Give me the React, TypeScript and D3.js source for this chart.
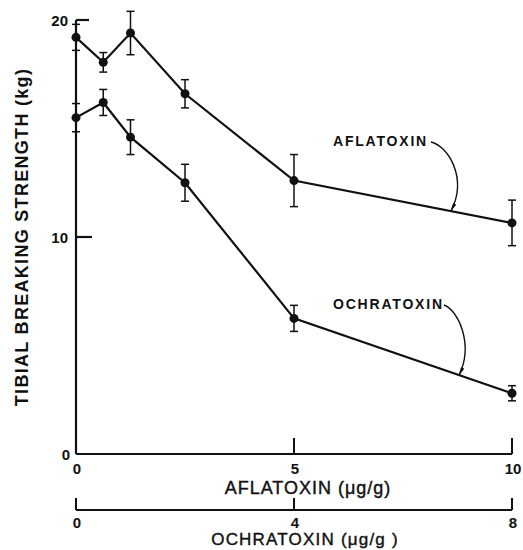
import React from 'react';
import * as d3 from 'd3';

// doses on the two x axes (they share pixel positions)
const aflaDose = [0, 0.625, 1.25, 2.5, 5, 10];
const ochraDose = [0, 0.5, 1, 2, 4, 8];

// tibial breaking strength (kg), mean and error bar half-width
const aflaMean = [19.2, 18.05, 19.4, 16.6, 12.6, 10.65];
const aflaErr = [0.6, 0.45, 1.0, 0.65, 1.2, 1.05];
const ochraMean = [15.5, 16.2, 14.6, 12.5, 6.25, 2.8];
const ochraErr = [0.65, 0.6, 0.8, 0.85, 0.6, 0.35];

const yTicks = [0, 10, 20];
const aflaTicks = [0, 5, 10];
const ochraTicks = [0, 4, 8];

const INK = '#111';
const FONT = '"Liberation Sans", Arial, sans-serif';

export default function App() {
  const W = 523;
  const H = 550;

  const xA = d3.scaleLinear().domain([0, 10]).range([76, 512]);
  const xO = d3.scaleLinear().domain([0, 8]).range([76, 512]);
  const y = d3.scaleLinear().domain([0, 20]).range([454, 20]);

  const line = d3.line<[number, number]>().x((d) => d[0]).y((d) => d[1]);

  const series = [
    { x: xA, dose: aflaDose, mean: aflaMean, err: aflaErr },
    { x: xO, dose: ochraDose, mean: ochraMean, err: ochraErr },
  ];

  // label leaders end on the series line
  const aflaAt = d3.scaleLinear().domain(aflaDose).range(aflaMean);
  const ochraAt = d3.scaleLinear().domain(ochraDose).range(ochraMean);
  const aEnd: [number, number] = [xA(8.6), y(aflaAt(8.6))];
  const oEnd: [number, number] = [xO(7.03), y(ochraAt(7.03))];

  const axisY0 = y(0);
  const ochraAxisY = 510;

  return (
    <svg
      width={W}
      height={H}
      style={{ position: 'absolute', left: 0, top: 0, background: '#fff' }}
      fontFamily={FONT}
    >
      <defs>
        <marker id="tip" viewBox="0 0 10 4" refX="9" refY="2" markerWidth="9" markerHeight="4"
          orient="auto" markerUnits="userSpaceOnUse">
          <path d="M0,0 L10,2 L0,4 Z" fill={INK} />
        </marker>
      </defs>

      {/* y axis */}
      <line x1={xA(0)} x2={xA(0)} y1={y(20)} y2={axisY0} stroke={INK} strokeWidth={2.2} />
      <line x1={xA(0)} x2={xA(0) + 13} y1={y(20)} y2={y(20)} stroke={INK} strokeWidth={2.2} />
      <line x1={xA(0)} x2={xA(0) + 16} y1={y(10)} y2={y(10)} stroke={INK} strokeWidth={2.2} />
      {yTicks.map((t) => (
        <text key={t} x={t === 0 ? 70 : 68} y={y(t) + 6} textAnchor="end" fontSize={15}
          fontWeight="bold" fill={INK}>
          {t}
        </text>
      ))}
      <text
        transform={`translate(28, ${y(10)}) rotate(-90)`}
        textAnchor="middle"
        fontSize={18}
        fontWeight="bold"
        letterSpacing={1.3}
        fill={INK}
      >
        TIBIAL BREAKING STRENGTH (kg)
      </text>

      {/* aflatoxin x axis */}
      <line x1={xA(0)} x2={xA(10)} y1={axisY0} y2={axisY0} stroke={INK} strokeWidth={2.2} />
      {aflaTicks.filter((t) => t > 0).map((t) => (
        <line key={t} x1={xA(t)} x2={xA(t)} y1={axisY0} y2={axisY0 - 16} stroke={INK} strokeWidth={2} />
      ))}
      {aflaTicks.map((t) => (
        <text key={t} x={xA(t) + 1} y={axisY0 + 20} textAnchor="middle" fontSize={15}
          fontWeight="bold" fill={INK}>
          {t}
        </text>
      ))}
      <text x={308} y={494} textAnchor="middle" fontSize={18} letterSpacing={1} fill={INK}
        stroke={INK} strokeWidth={0.4}>
        AFLATOXIN (μg/g)
      </text>

      {/* ochratoxin x axis */}
      <line x1={xO(0)} x2={xO(8)} y1={ochraAxisY} y2={ochraAxisY} stroke={INK} strokeWidth={2.2} />
      {ochraTicks.map((t) => (
        <line key={t} x1={xO(t)} x2={xO(t)} y1={ochraAxisY} y2={ochraAxisY - 12} stroke={INK} strokeWidth={2} />
      ))}
      {ochraTicks.map((t) => (
        <text key={t} x={xO(t) + 1} y={ochraAxisY + 18} textAnchor="middle" fontSize={15}
          fontWeight="bold" fill={INK}>
          {t}
        </text>
      ))}
      <text x={305} y={545} textAnchor="middle" fontSize={17} letterSpacing={1.2} fill={INK}
        stroke={INK} strokeWidth={0.4}>
        OCHRATOXIN (μg/g )
      </text>

      {/* series */}
      {series.map((s, i) => {
        const pts = s.dose.map((d, j) => [s.x(d), y(s.mean[j])] as [number, number]);
        return (
          <g key={i}>
            <path d={line(pts) ?? ''} fill="none" stroke={INK} strokeWidth={2.2} />
            {s.dose.map((d, j) => {
              const cx = s.x(d);
              const top = y(s.mean[j] + s.err[j]);
              const bot = y(s.mean[j] - s.err[j]);
              return (
                <g key={j} stroke={INK} strokeWidth={1.5}>
                  <line x1={cx} x2={cx} y1={top} y2={bot} />
                  <line x1={cx - 4} x2={cx + 4} y1={top} y2={top} />
                  <line x1={cx - 4} x2={cx + 4} y1={bot} y2={bot} />
                </g>
              );
            })}
            {pts.map((p, j) => (
              <circle key={j} cx={p[0]} cy={p[1]} r={4.5} fill={INK} />
            ))}
          </g>
        );
      })}

      {/* series labels with leaders */}
      <text x={333} y={146} fontSize={14} fontWeight="bold" letterSpacing={1.8} fill={INK}>
        AFLATOXIN
      </text>
      <path
        d={`M431,142 C448,146 468,178 ${aEnd[0]},${aEnd[1]}`}
        fill="none" stroke={INK} strokeWidth={1.4} markerEnd="url(#tip)"
      />
      <text x={333} y={309} fontSize={14} fontWeight="bold" letterSpacing={1.8} fill={INK}>
        OCHRATOXIN
      </text>
      <path
        d={`M444,305 C458,310 474,344 ${oEnd[0]},${oEnd[1]}`}
        fill="none" stroke={INK} strokeWidth={1.4} markerEnd="url(#tip)"
      />
    </svg>
  );
}
